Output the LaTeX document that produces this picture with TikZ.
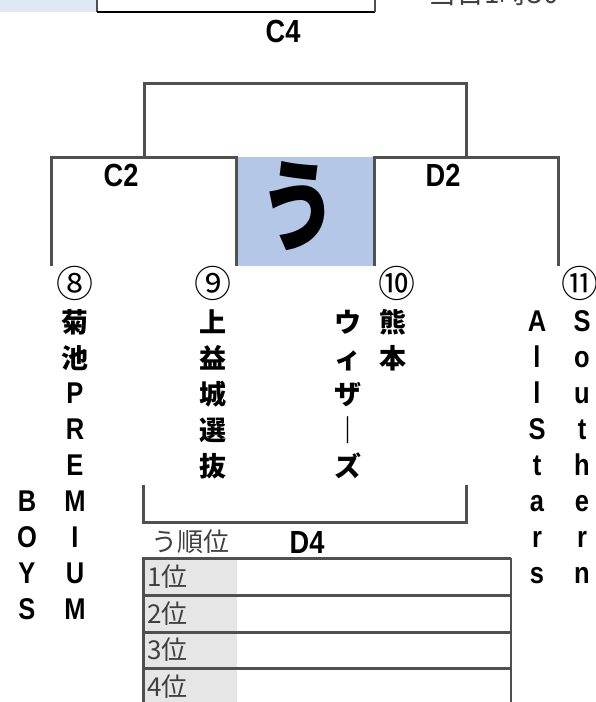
\documentclass[tikz,border=0pt]{standalone}
\usepackage{fontspec}
\setmainfont{Noto Sans CJK JP}
\newfontfamily\latinfont{Liberation Sans}
\newfontfamily\latinnarrow[FakeStretch=0.85]{Liberation Sans}
\definecolor{brk}{HTML}{505050}
\definecolor{ublue}{HTML}{B4C7E7}
\definecolor{lblue}{HTML}{DDE8F3}
\definecolor{rankgray}{HTML}{E7E6E6}
\definecolor{txtgray}{HTML}{404040}
\begin{document}
\begin{tikzpicture}[x=1pt,y=-1pt,
  brkline/.style={draw=brk, line width=3pt},
  vt/.style={font=\fontsize{27}{27}\selectfont\bfseries, anchor=base, inner sep=0pt},
  vtl/.style={font=\latinnarrow\fontsize{30}{30}\selectfont\bfseries, anchor=base, inner sep=0pt},
  code/.style={font=\latinnarrow\fontsize{32}{32}\selectfont\bfseries, inner sep=0pt},
  circ/.style={font=\fontsize{37}{37}\selectfont, inner sep=0pt},
  rank/.style={font=\fontsize{26}{26}\selectfont, text=txtgray, inner sep=0pt, anchor=west}]
\useasboundingbox (0,0) rectangle (595,702);
% top strip
\fill[lblue] (0,0) rectangle (96,12);
\draw[draw=brk, line width=2pt] (97,0) -- (97,12);
\draw[black, line width=1.5pt] (97,12) -- (375,12);
\draw[draw=brk, line width=1.5pt] (375,0) -- (375,12);
\node[anchor=base west, inner sep=0pt, font=\fontsize{28}{28}\selectfont, text=txtgray] (time) at (428,3) {当日1時30};
\node[code] (c4) at (283,31) {C4};
% blue block
\fill[ublue] (236,157) rectangle (374,266);
\node[font=\fontsize{100}{100}\selectfont\bfseries, inner sep=0pt] (u) at (298,206) {\scalebox{0.78}[1]{う}};
% brackets
\draw[brkline] (144,157) -- (144,83) -- (466,83) -- (466,157);
\draw[brkline] (51,266) -- (51,157) -- (236,157) -- (236,266);
\draw[brkline] (374,266) -- (374,157) -- (558,157) -- (558,266);
\node[code] (c2) at (121,175) {C2};
\node[code] (d2) at (443,175) {D2};
% seeds
\node[circ] (n8) at (75,283) {⑧};
\node[circ] (n9) at (213,283) {⑨};
\node[circ] (n10) at (397,283) {⑩};
\node[circ] (n11) at (580,283) {⑪};
% vertical team names
\foreach \c [count=\i from 0] in {菊,池}
  \node[vt] (t8a-\i) at (75,332+36*\i) {\c};
\foreach \c [count=\i from 2] in {P,R,E,M,I,U,M}
  \node[vtl] (t8l-\i) at (75,331+36*\i) {\c};
\foreach \c [count=\i from 5] in {B,O,Y,S}
  \node[vtl] (t8b-\i) at (27,331+36*\i) {\c};
\foreach \c [count=\i from 0] in {上,益,城,選,抜}
  \node[vt] (t9-\i) at (213,332+36*\i) {\c};
\foreach \c [count=\i from 0] in {熊,本}
  \node[vt] (t10a-\i) at (393,332+36*\i) {\c};
\foreach \c [count=\i from 0] in {ウ,ィ,ザ,｜,ズ}
  \node[vt] (t10b-\i) at (348,332+36*\i) {\c};
\foreach \c [count=\i from 0] in {S,o,u,t,h,e,r,n}
  \node[vtl] (t11a-\i) at (582,331+36*\i) {\c};
\foreach \c [count=\i from 0] in {A,l,l,S,t,a,r,s}
  \node[vtl] (t11b-\i) at (537,331+36*\i) {\c};
% D4 bracket
\draw[brkline] (143,485) -- (143,522) -- (466,522) -- (466,485);
\node[rank] (jun) at (151,542) {う順位};
\node[code] (d4) at (307,542) {D4};
% ranking table
\fill[rankgray] (143,558) rectangle (237,702);
\foreach \y in {558,595,632,668}
  \draw[brkline] (142,\y) -- (511,\y);
\draw[brkline] (143,558) -- (143,702);
\draw[draw=brk, line width=2pt] (511,558) -- (511,702);
\foreach \t [count=\i from 0] in {1位,2位,3位,4位}
  \node[rank] (r\i) at (147,577+36.5*\i) {\t};
\end{tikzpicture}
\end{document}
